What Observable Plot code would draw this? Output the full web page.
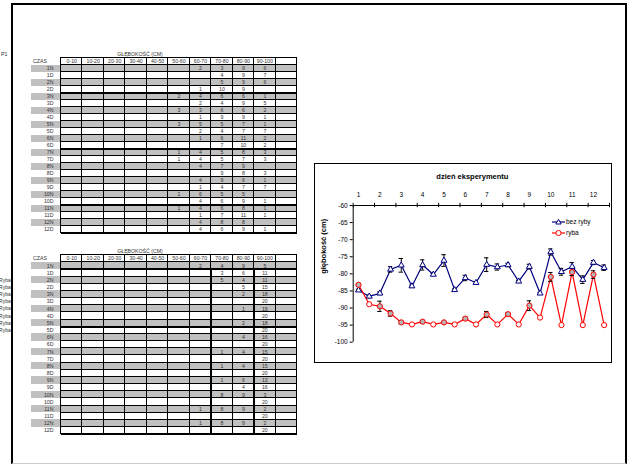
<!DOCTYPE html>
<html><head><meta charset="utf-8">
<script src="https://cdn.jsdelivr.net/npm/d3@7"></script>
<script src="https://cdn.jsdelivr.net/npm/@observablehq/plot@0.6"></script>
<style>
body{margin:0;background:#fff;font-family:Arial,"Liberation Sans",sans-serif;}
#page{position:relative;width:632px;height:465px;overflow:hidden;background:#fff;}
#frame{position:absolute;box-sizing:border-box;left:11px;top:3px;width:616px;height:461px;border:2px solid #000;border-bottom:1px solid #ccc;}
.abs{position:absolute;}
#chartbox{position:absolute;box-sizing:border-box;left:314px;top:163px;width:298px;height:200px;border:1.5px solid #000;}
.leg{position:absolute;font-size:6.5px;color:#000;white-space:nowrap;line-height:8px;}
</style></head><body>
<div id="page"><div id="frame"></div></div>
<script>
const _ = null;
const depthBins = ["0-10","10-20","20-30","30-40","40-50","50-60","60-70","70-80","80-90","90-100",""];
const timeLabels = ["1N","1D","2N","2D","3N","3D","4N","4D","5N","5D","6N","6D","7N","7D","8N","8D","9N","9D","10N","10D","11N","11D","12N","12D"];
const tableTitle = "GŁĘBOKOŚĆ (CM)";
const timeHeader = "CZAS";
const sheetLabel = "P1";
const fishRowLabels = ["","","Ryba","Ryba","Ryba","Ryba","Ryba","Ryba","Ryba","Ryba","","","","","","","","","","","","","",""];

// counts of individuals per depth bin, table without fish (top)
const countsNoFish = [
 [_,_,_,_,_,_,2,3,9,6,_],
 [_,_,_,_,_,_,_,4,9,7,_],
 [_,_,_,_,_,_,_,5,9,6,_],
 [_,_,_,_,_,_,1,10,9,_,_],
 [_,_,_,_,_,2,4,6,6,1,_],
 [_,_,_,_,_,_,2,4,9,5,_],
 [_,_,_,_,_,3,3,6,6,2,_],
 [_,_,_,_,_,_,1,9,9,1,_],
 [_,_,_,_,_,3,5,5,7,1,_],
 [_,_,_,_,_,_,2,4,7,7,_],
 [_,_,_,_,_,_,1,6,11,2,_],
 [_,_,_,_,_,_,_,7,10,2,_],
 [_,_,_,_,_,1,4,5,8,3,_],
 [_,_,_,_,_,1,4,5,7,3,_],
 [_,_,_,_,_,_,4,7,9,_,_],
 [_,_,_,_,_,_,_,9,8,3,_],
 [_,_,_,_,_,_,4,9,6,1,_],
 [_,_,_,_,_,_,1,4,7,7,_],
 [_,_,_,_,_,1,6,5,5,_,_],
 [_,_,_,_,_,_,4,6,9,1,_],
 [_,_,_,_,_,1,4,6,8,1,_],
 [_,_,_,_,_,_,1,7,11,1,_],
 [_,_,_,_,_,_,4,8,8,_,_],
 [_,_,_,_,_,_,4,6,9,1,_]
];
// table with fish (bottom)
const countsFish = [
 [_,_,_,_,_,_,2,4,9,5,_],
 [_,_,_,_,_,_,_,3,6,11,_],
 [_,_,_,_,_,_,_,5,4,11,_],
 [_,_,_,_,_,_,_,_,5,15,_],
 [_,_,_,_,_,_,_,_,2,18,_],
 [_,_,_,_,_,_,_,_,_,20,_],
 [_,_,_,_,_,_,_,_,1,19,_],
 [_,_,_,_,_,_,_,_,_,20,_],
 [_,_,_,_,_,_,_,_,2,18,_],
 [_,_,_,_,_,_,_,_,_,20,_],
 [_,_,_,_,_,_,_,_,4,16,_],
 [_,_,_,_,_,_,_,_,_,20,_],
 [_,_,_,_,_,_,_,1,4,15,_],
 [_,_,_,_,_,_,_,_,_,20,_],
 [_,_,_,_,_,_,_,1,4,15,_],
 [_,_,_,_,_,_,_,_,_,20,_],
 [_,_,_,_,_,_,_,1,6,13,_],
 [_,_,_,_,_,_,_,_,4,16,_],
 [_,_,_,_,_,_,_,8,9,3,_],
 [_,_,_,_,_,_,_,_,_,20,_],
 [_,_,_,_,_,_,1,8,9,2,_],
 [_,_,_,_,_,_,_,_,_,20,_],
 [_,_,_,_,_,_,1,8,9,2,_],
 [_,_,_,_,_,_,_,_,_,20,_]
];
const thickRowsNoFish = [4,12,20];
const thickRowsFish = [1,9];
const thickColsFish = [7,9];

// chart data
const chartTitle = "dzień eksperymentu";
const yTitle = "głębokość (cm)";
const dayTicks = ["1","2","3","4","5","6","7","8","9","10","11","12"];
const yTicks = [-60,-65,-70,-75,-80,-85,-90,-95,-100];
const seriesNames = ["bez ryby","ryba"];
const bezRyby = [-84.8,-86.6,-85.7,-78.7,-77.5,-83.6,-77.4,-80.2,-76.1,-84.7,-81.2,-82.6,-77.3,-78.0,-77.4,-82.2,-77.9,-85.7,-73.6,-79.4,-77.9,-81.7,-76.7,-78.2];
const bezRybyErr = [0.3,0.4,0.4,0.8,2.0,0.3,1.5,0.3,1.7,0.3,0.8,0.3,2.0,0.9,0.5,0.3,0.7,0.3,0.9,1.0,1.2,1.1,0.6,0.8];
const ryba = [-83.2,-88.9,-89.5,-91.6,-94.2,-94.8,-94.0,-94.8,-94.2,-94.8,-93.1,-94.8,-91.9,-94.8,-91.8,-94.8,-89.3,-92.8,-80.9,-95.0,-79.5,-95.0,-80.2,-95.0];
const rybaErr = [0.3,0,1.5,0.8,0.4,0,0.3,0,0.3,0,0.3,0,0.9,0,0.4,0,1.4,0,1.3,0,1.0,0,1.1,0];

const FONT = "Arial, 'Liberation Sans', sans-serif";
const TXT = "#333";
const page = document.getElementById("page");

function tablePlot(counts, top, height, yRange, thickRows, thickCols, sideLabels) {
  const cells = [];
  counts.forEach((row, i) => row.forEach((v, j) => cells.push({i, j, v, night: timeLabels[i].endsWith("N")})));
  const rows = timeLabels.map((t, i) => ({i, t, night: t.endsWith("N"), side: sideLabels ? sideLabels[i] : ""}));
  const header = depthBins.map((b, j) => ({j, b}));
  const crisp = {shapeRendering: "crispEdges"};
  const p = Plot.plot({
    width: 300, height,
    margin: 0,
    style: {background: "transparent", fontFamily: FONT},
    x: {type: "linear", domain: [0, 11], range: [60.5, 296.5], axis: null},
    y: {type: "linear", domain: [-1, 24], range: yRange, axis: null},
    marks: [
      Plot.rect(rows.filter(r => r.night), {x1: -1.385, x2: 0, y1: "i", y2: r => r.i + 1, fill: "#c0c0c0", ...crisp}),
      Plot.rect(cells, {x1: "j", x2: d => d.j + 1, y1: "i", y2: d => d.i + 1, fill: d => d.night ? "#c0c0c0" : "white", stroke: "black", strokeWidth: 1, ...crisp}),
      Plot.rect(header, {x1: "j", x2: d => d.j + 1, y1: -1, y2: 0, fill: "white", stroke: "black", strokeWidth: 1, ...crisp}),
      Plot.ruleY(thickRows, {x1: 0, x2: 11, stroke: "black", strokeWidth: 2, ...crisp}),
      Plot.ruleX(thickCols, {y1: 1, y2: 24, stroke: "black", strokeWidth: 2, ...crisp}),
      Plot.ruleY([24], {x1: 0, x2: 11, stroke: "black", strokeWidth: 2, ...crisp}),
      Plot.text(header, {x: d => d.j + 0.5, y: -0.5, text: "b", fontSize: 5.2, fill: TXT}),
      Plot.text(cells.filter(d => d.v != null), {x: d => d.j + 0.5, y: d => d.i + 0.5, text: d => String(d.v), fontSize: 5.2, fill: TXT}),
      Plot.text(rows, {x: 0, y: d => d.i + 0.5, text: "t", textAnchor: "end", dx: -7.5, fontSize: 5.2, fill: TXT}),
      Plot.text(rows.filter(r => r.side), {x: 0, y: d => d.i + 0.5, text: "side", textAnchor: "end", dx: -50.2, fontSize: 5, fill: TXT}),
      Plot.text([timeHeader], {x: 0, y: -0.5, text: d => d, dx: -21, fontSize: 5.2, fill: TXT}),
      Plot.text([tableTitle], {x: 0, y: -1, text: d => d, dx: 79, dy: -3.5, fontSize: 5.2, fill: TXT})
    ]
  });
  p.classList.add("abs");
  p.style.left = "0px";
  p.style.top = top + "px";
  return p;
}

page.appendChild(tablePlot(countsNoFish, 40, 200, [17.5, 192.5], thickRowsNoFish, [], null));
page.appendChild(tablePlot(countsFish, 240, 205, [14.6, 193.8], thickRowsFish, thickColsFish, fishRowLabels));

// sheet label P1
const p1 = document.createElement("div");
p1.className = "leg"; p1.style.left = "1px"; p1.style.top = "50px"; p1.style.fontSize = "5.2px"; p1.style.color = TXT;
p1.textContent = sheetLabel;
page.appendChild(p1);

// chart frame
const box = document.createElement("div");
box.id = "chartbox";
page.appendChild(box);

const data = timeLabels.map((t, i) => ({i, t, bez: bezRyby[i], bezErr: bezRybyErr[i], ryba: ryba[i], rybaErr: rybaErr[i]}));
const X = d => d.i + 0.5;
const bezE = data.filter(d => d.bezErr > 0);
const rybE = data.filter(d => d.rybaErr > 0);
const cap = {insetLeft: -2.2, insetRight: -2.2, stroke: "black", strokeWidth: 1};
const chart = Plot.plot({
  width: 298, height: 200,
  marginLeft: 38.7, marginRight: 3, marginTop: 42, marginBottom: 21.3,
  style: {background: "transparent", fontFamily: FONT, fontSize: "6.5px", color: "black"},
  x: {type: "linear", domain: [0, 24], axis: null},
  y: {type: "linear", domain: [-100, -60], axis: null},
  marks: [
    Plot.ruleY([-60], {stroke: "black", strokeWidth: 1}),
    Plot.ruleX([0], {y1: -100, y2: -60, stroke: "black", strokeWidth: 1}),
    Plot.ruleX(d3.range(0, 25, 2), {x: d => d, y1: -60, y2: -60, insetTop: -2.2, insetBottom: -2.2, stroke: "black"}),
    Plot.ruleY(yTicks, {y: d => d, x1: 0, x2: 0, insetLeft: -3, stroke: "black"}),
    Plot.text(yTicks, {x: 0, y: d => d, text: d => String(d), textAnchor: "end", dx: -5.5, fontSize: 6.5}),
    Plot.text(dayTicks, {x: (d, i) => 2 * i + 0.5, y: -60, text: d => d, dy: -11, fontSize: 6.5}),
    Plot.text([chartTitle], {frameAnchor: "top", text: d => d, dx: -9, dy: -32, fontSize: 7.5, fontWeight: "bold"}),
    Plot.text([yTitle], {frameAnchor: "left", text: d => d, dx: -30, rotate: -90, fontSize: 7.5, fontWeight: "bold"}),
    Plot.line(data, {x: X, y: "bez", stroke: "#000080", strokeWidth: 1.2}),
    Plot.line(data, {x: X, y: "ryba", stroke: "#ff0000", strokeWidth: 1.2}),
    Plot.ruleX(bezE, {x: X, y1: d => d.bez - d.bezErr, y2: d => d.bez + d.bezErr, stroke: "black", strokeWidth: 1}),
    Plot.ruleY(bezE, {y: d => d.bez - d.bezErr, x1: X, x2: X, ...cap}),
    Plot.ruleY(bezE, {y: d => d.bez + d.bezErr, x1: X, x2: X, ...cap}),
    Plot.ruleX(rybE, {x: X, y1: d => d.ryba - d.rybaErr, y2: d => d.ryba + d.rybaErr, stroke: "black", strokeWidth: 1}),
    Plot.ruleY(rybE, {y: d => d.ryba - d.rybaErr, x1: X, x2: X, ...cap}),
    Plot.ruleY(rybE, {y: d => d.ryba + d.rybaErr, x1: X, x2: X, ...cap}),
    Plot.dot(data, {x: X, y: "bez", symbol: "triangle", r: 2.2, stroke: "#000080", fill: "white", strokeWidth: 1}),
    Plot.dot(data, {x: X, y: "ryba", symbol: "circle", r: 2.6, stroke: "#ff0000", fill: d => d.rybaErr > 0 ? "#b4b4b4" : "white", strokeWidth: 1})
  ]
});
chart.classList.add("abs");
chart.style.left = "314px";
chart.style.top = "163px";
page.appendChild(chart);

// legend
const legendItems = [
  {name: seriesNames[0], color: "#000080", sym: "tri", top: 221.7},
  {name: seriesNames[1], color: "#ff0000", sym: "circ", top: 233.3}
];
legendItems.forEach(it => {
  const ns = "http://www.w3.org/2000/svg";
  const svg = document.createElementNS(ns, "svg");
  svg.setAttribute("width", 16); svg.setAttribute("height", 8);
  svg.style.position = "absolute"; svg.style.left = "551px"; svg.style.top = (it.top - 4) + "px";
  const ln = document.createElementNS(ns, "line");
  ln.setAttribute("x1", 1); ln.setAttribute("x2", 14); ln.setAttribute("y1", 4); ln.setAttribute("y2", 4);
  ln.setAttribute("stroke", it.color); ln.setAttribute("stroke-width", 1.2);
  svg.appendChild(ln);
  let m;
  if (it.sym === "tri") {
    m = document.createElementNS(ns, "path");
    m.setAttribute("d", "M7.5,1.3 L10.2,6 L4.8,6 Z");
  } else {
    m = document.createElementNS(ns, "circle");
    m.setAttribute("cx", 7.5); m.setAttribute("cy", 4); m.setAttribute("r", 2.6);
  }
  m.setAttribute("fill", "white"); m.setAttribute("stroke", it.color); m.setAttribute("stroke-width", 1);
  svg.appendChild(m);
  page.appendChild(svg);
  const tx = document.createElement("div");
  tx.className = "leg";
  tx.style.left = "566px"; tx.style.top = (it.top - 4) + "px";
  tx.textContent = it.name;
  page.appendChild(tx);
});
</script>
</body></html>
